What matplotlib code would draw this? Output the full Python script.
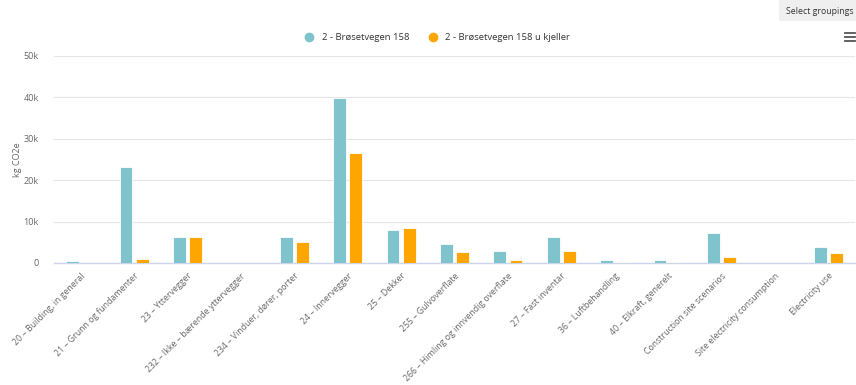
import matplotlib.pyplot as plt
from matplotlib.patches import Rectangle
import numpy as np

plt.rcParams['font.family'] = ['Open Sans', 'DejaVu Sans']

categories = [
    '20 – Building, in general',
    '21 – Grunn og fundamenter',
    '23 – Yttervegger',
    '232 – Ikke – bærende yttervegger',
    '234 – Vinduer, dører, porter',
    '24 – Innervegger',
    '25 – Dekker',
    '255 – Gulvoverflate',
    '266 – Himling og innvendig overflate',
    '27 – Fast inventar',
    '36 – Luftbehandling',
    '40 – Elkraft, generelt',
    'Construction site scenarios',
    'Site electricity consumption',
    'Electricity use',
]
with_basement = [400, 23100, 6300, 0, 6300, 39700, 7950, 4600, 3000, 6200, 650, 650, 7200, 0, 3800]
without_basement = [0, 1000, 6300, 0, 5100, 26500, 8400, 2650, 800, 3000, 150, 350, 1450, 0, 2400]
series_names = ['2 - Brøsetvegen 158', '2 - Brøsetvegen 158 u kjeller']
colors = ['#7fc4cc', '#ffa500']

fig = plt.figure(figsize=(8.56, 3.85), dpi=100)
ax = fig.add_axes([54 / 856, 1 - 263 / 385, 801 / 856, 207.3 / 385])

x = np.arange(len(categories))
w = 0.24
ax.bar(x - 0.15, with_basement, w, color=colors[0], edgecolor='white', linewidth=0.6, zorder=3)
ax.bar(x + 0.15, without_basement, w, color=colors[1], edgecolor='white', linewidth=0.6, zorder=3)

ax.set_xlim(-0.5, len(categories) - 0.5)
ax.set_ylim(0, 50000)
ax.set_yticks([0, 10000, 20000, 30000, 40000, 50000])
ax.set_yticklabels(['0', '10k', '20k', '30k', '40k', '50k'])
ax.grid(axis='y', color='#e6e6e6', linewidth=0.8, zorder=0)
ax.set_axisbelow(True)
for s in ['top', 'right', 'left']:
    ax.spines[s].set_visible(False)
ax.spines['bottom'].set_color('#ccd6eb')
ax.spines['bottom'].set_linewidth(1)

ax.set_xticks(x)
ax.set_xticklabels(categories, rotation=45, ha='right', rotation_mode='anchor',
                   fontsize=6.3, color='#666666')
ax.tick_params(axis='x', length=0, pad=6)
ax.tick_params(axis='y', length=0, pad=11, labelsize=6.5, labelcolor='#666666')

fig.text(17 / 856, 1 - 160 / 385, 'kg CO2e', rotation=90, fontsize=6.5, color='#666666',
         ha='center', va='center')

# legend
handles = [plt.Line2D([], [], marker='o', linestyle='', markersize=6, color=c) for c in colors]
fig.legend(handles, series_names, loc='center', bbox_to_anchor=(435 / 856, 1 - 38 / 385),
           ncol=2, frameon=False, fontsize=6.8, handletextpad=0.3, columnspacing=1.5,
           labelcolor='#333333')

# "Select groupings" button and menu icon
fig.patches.append(Rectangle((779 / 856, 1 - 21 / 385), 77 / 856, 21 / 385,
                             transform=fig.transFigure, facecolor='#efefef', edgecolor='none'))
fig.text(786 / 856, 1 - 11 / 385, 'Select groupings', fontsize=6.3, color='#333333', va='center')
for dy in [33, 37, 41]:
    fig.add_artist(plt.Line2D([845 / 856, 855 / 856], [1 - dy / 385, 1 - dy / 385],
                              color='#555555', linewidth=1.3, transform=fig.transFigure))

plt.savefig('out.png', dpi=100)
